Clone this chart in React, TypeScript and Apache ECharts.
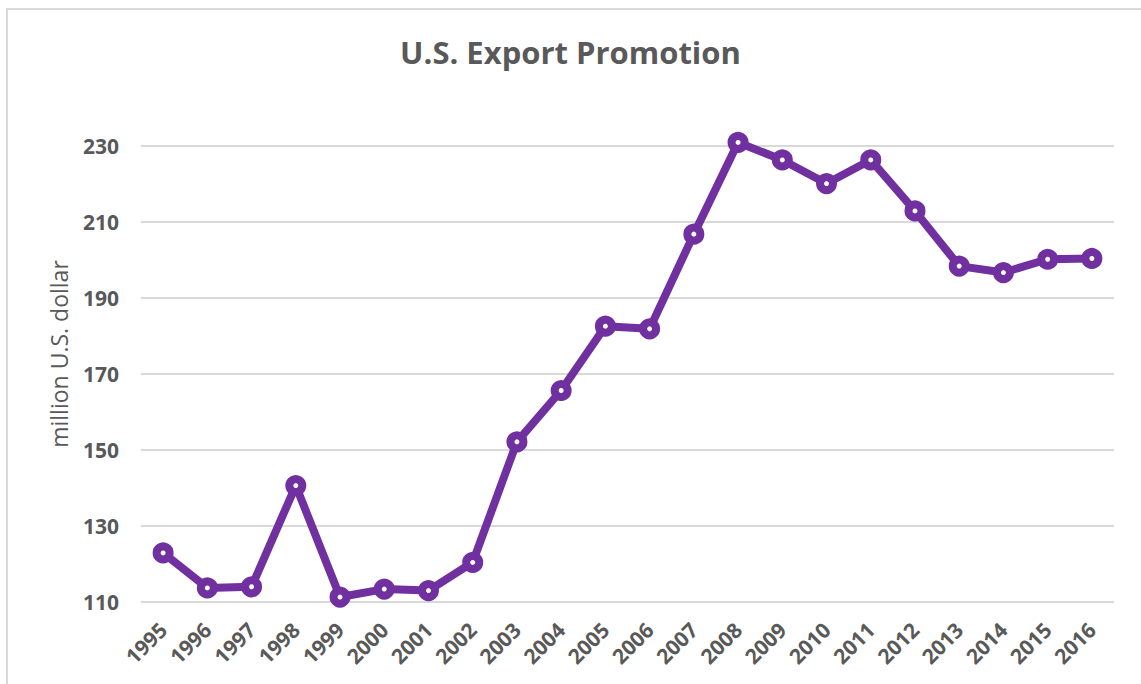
import React, { useEffect, useRef } from "react";
import * as echarts from "echarts";

const years = ["1995","1996","1997","1998","1999","2000","2001","2002","2003","2004","2005","2006","2007","2008","2009","2010","2011","2012","2013","2014","2015","2016"];
const values = [122.9,113.7,114.0,140.6,111.3,113.4,113.0,120.4,152.1,165.6,182.5,181.8,206.7,230.8,226.2,220.0,226.2,212.8,198.3,196.6,200.1,200.3];
const yMin = 110;
const yMax = 230;
const yStep = 20;
const titleText = "U.S. Export Promotion";
const yAxisTitle = "million U.S. dollar";

export default function App() {
  const ref = useRef<HTMLDivElement>(null);
  useEffect(() => {
    if (!ref.current) return;
    const chart = echarts.init(ref.current, null, { renderer: "svg" });
    const font = "'Open Sans', 'Noto Sans', sans-serif";
    chart.setOption({
      animation: false,
      backgroundColor: "#ffffff",
      title: {
        text: titleText,
        left: "center",
        top: 31,
        textStyle: { color: "#595959", fontSize: 31, fontWeight: "bold", fontFamily: font },
      },
      graphic: [
        {
          type: "rect",
          shape: { x: 7, y: 9, width: 1200, height: 800 },
          style: { fill: "none", stroke: "#d9d9d9", lineWidth: 2 },
          silent: true,
          z: -1,
        },
        {
          type: "text",
          x: 59,
          y: 354,
          rotation: Math.PI / 2,
          style: {
            text: yAxisTitle,
            fill: "#595959",
            fontSize: 23,
            fontFamily: font,
            align: "center",
            verticalAlign: "middle",
          },
        },
      ],
      grid: { left: 141, right: 27, top: 145.5, bottom: 82, containLabel: false },
      xAxis: {
        type: "category",
        data: years,
        boundaryGap: true,
        axisLine: { show: false },
        axisTick: { show: false },
        axisLabel: {
          rotate: 45,
          interval: 0,
          margin: 24,
          color: "#595959",
          fontSize: 21,
          fontWeight: "bold",
          fontFamily: font,
        },
      },
      yAxis: {
        type: "value",
        min: yMin,
        max: yMax,
        interval: yStep,
        axisLine: { show: false },
        axisTick: { show: false },
        splitLine: { lineStyle: { color: "#d9d9d9", width: 2 } },
        axisLabel: {
          margin: 22,
          color: "#595959",
          fontSize: 21,
          fontWeight: "bold",
          fontFamily: font,
        },
      },
      series: [
        {
          type: "line",
          data: values,
          clip: false,
          symbol: "circle",
          symbolSize: 13,
          lineStyle: { color: "#7030a0", width: 8 },
          itemStyle: { color: "#ffffff", borderColor: "#7030a0", borderWidth: 8 },
        },
      ],
    });
    return () => chart.dispose();
  }, []);
  return <div ref={ref} style={{ position: "fixed", left: 0, top: 0, width: 1141, height: 684 }} />;
}
